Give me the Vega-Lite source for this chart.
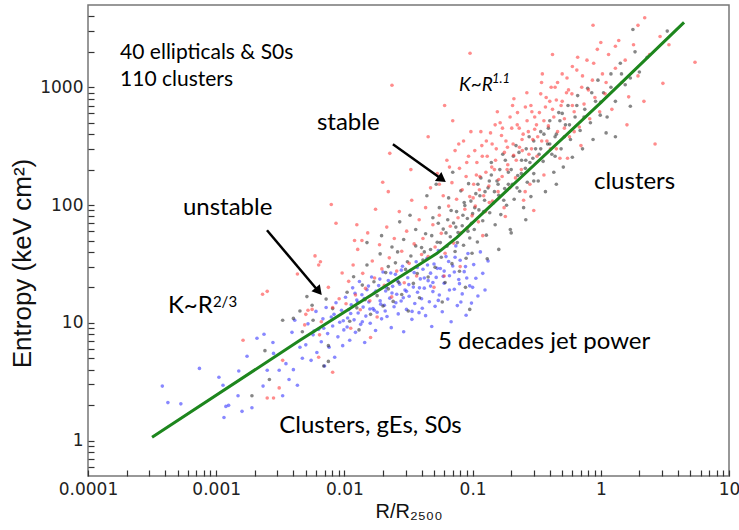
{
"$schema": "https://vega.github.io/schema/vega-lite/v6.json",
"width": 641, "height": 471,
"autosize": {"type": "none"},
"padding": {"left": 88, "top": 5, "right": 10, "bottom": 54},
"background": "white",
"config": {"view": {"stroke": "#777", "strokeWidth": 1.5}, "axis": {"domain": false, "grid": false, "ticks": true, "tickColor": "#333", "tickWidth": 1.2, "zindex": 2}},
"datasets": {
"pts": [
{"r":0.00038,"k":2.9,"g":"b"},{"r":0.00042,"k":2.1,"g":"b"},{"r":0.00053,"k":2.05,"g":"b"},{"r":0.00074,"k":4.1,"g":"b"},{"r":0.00105,"k":3.45,"g":"b"},{"r":0.00113,"k":2.95,"g":"b"},{"r":0.00115,"k":1.57,"g":"b"},{"r":0.00119,"k":1.95,"g":"b"},{"r":0.00125,"k":1.99,"g":"b"},{"r":0.00148,"k":2.4,"g":"b"},{"r":0.0015,"k":3.9,"g":"b"},{"r":0.00159,"k":1.77,"g":"b"},{"r":0.00174,"k":5.2,"g":"b"},{"r":0.0019,"k":1.9,"g":"b"},{"r":0.00208,"k":7.4,"g":"b"},{"r":0.00236,"k":8.0,"g":"b"},{"r":0.0025,"k":3.95,"g":"b"},{"r":0.00232,"k":2.9,"g":"b"},{"r":0.00277,"k":6.8,"g":"b"},{"r":0.0031,"k":3.95,"g":"b"},{"r":0.0033,"k":2.4,"g":"b"},{"r":0.0035,"k":4.5,"g":"b"},{"r":0.0037,"k":3.3,"g":"b"},{"r":0.004,"k":4.0,"g":"b"},{"r":0.0043,"k":2.95,"g":"b"},{"r":0.0045,"k":6.2,"g":"b"},{"r":0.0039,"k":8.3,"g":"b"},{"r":0.0028,"k":5.5,"g":"b"},{"r":0.0047,"k":5.0,"g":"b"},{"r":0.0041,"k":10.5,"g":"b"},
{"r":0.005,"k":6.5,"g":"b"},{"r":0.0052,"k":9.8,"g":"b"},{"r":0.0055,"k":4.8,"g":"b"},{"r":0.0057,"k":7.9,"g":"b"},{"r":0.006,"k":12.5,"g":"b"},{"r":0.0061,"k":5.6,"g":"b"},{"r":0.0063,"k":8.8,"g":"b"},{"r":0.0066,"k":6.9,"g":"b"},{"r":0.0068,"k":10.8,"g":"b"},{"r":0.007,"k":4.3,"g":"b"},{"r":0.0072,"k":13.5,"g":"b"},{"r":0.0074,"k":8.1,"g":"b"},{"r":0.0076,"k":6.2,"g":"b"},{"r":0.0079,"k":11.2,"g":"b"},{"r":0.0081,"k":9.4,"g":"b"},{"r":0.0084,"k":5.1,"g":"b"},{"r":0.0086,"k":14.8,"g":"b"},{"r":0.0089,"k":7.6,"g":"b"},{"r":0.0092,"k":10.1,"g":"b"},{"r":0.0095,"k":12.8,"g":"b"},{"r":0.0097,"k":6.4,"g":"b"},{"r":0.0099,"k":8.7,"g":"b"},
{"r":0.0102,"k":16.5,"g":"b"},{"r":0.0105,"k":9.2,"g":"b"},{"r":0.0108,"k":12.9,"g":"b"},{"r":0.011,"k":7.1,"g":"b"},{"r":0.0113,"k":14.2,"g":"b"},{"r":0.0116,"k":19.8,"g":"b"},{"r":0.0119,"k":10.6,"g":"b"},{"r":0.0122,"k":8.3,"g":"b"},{"r":0.0125,"k":15.6,"g":"b"},{"r":0.0128,"k":12.1,"g":"b"},{"r":0.0131,"k":22.4,"g":"b"},{"r":0.0134,"k":9.7,"g":"b"},{"r":0.0137,"k":17.3,"g":"b"},{"r":0.014,"k":13.6,"g":"b"},{"r":0.0144,"k":6.8,"g":"b"},{"r":0.0147,"k":11.4,"g":"b"},{"r":0.015,"k":19.1,"g":"b"},{"r":0.0155,"k":15.0,"g":"b"},{"r":0.0159,"k":9.9,"g":"b"},{"r":0.0163,"k":24.5,"g":"b"},{"r":0.0167,"k":13.2,"g":"b"},{"r":0.0171,"k":17.9,"g":"b"},{"r":0.0175,"k":8.6,"g":"b"},{"r":0.018,"k":12.3,"g":"b"},{"r":0.0185,"k":20.7,"g":"b"},{"r":0.019,"k":15.4,"g":"b"},{"r":0.0195,"k":10.8,"g":"b"},{"r":0.02,"k":27.0,"g":"b"},
{"r":0.0205,"k":14.1,"g":"b"},{"r":0.021,"k":18.6,"g":"b"},{"r":0.0215,"k":11.3,"g":"b"},{"r":0.022,"k":22.9,"g":"b"},{"r":0.0226,"k":16.2,"g":"b"},{"r":0.0232,"k":9.1,"g":"b"},{"r":0.0238,"k":20.4,"g":"b"},{"r":0.0244,"k":13.7,"g":"b"},{"r":0.025,"k":25.8,"g":"b"},{"r":0.0256,"k":17.5,"g":"b"},{"r":0.0263,"k":11.9,"g":"b"},{"r":0.027,"k":21.3,"g":"b"},{"r":0.0277,"k":15.3,"g":"b"},{"r":0.0284,"k":30.2,"g":"b"},{"r":0.029,"k":8.4,"g":"b"},{"r":0.0297,"k":19.0,"g":"b"},{"r":0.0305,"k":13.0,"g":"b"},{"r":0.0312,"k":24.1,"g":"b"},{"r":0.032,"k":16.8,"g":"b"},{"r":0.0328,"k":27.9,"g":"b"},{"r":0.0336,"k":10.7,"g":"b"},{"r":0.0345,"k":20.1,"g":"b"},{"r":0.0354,"k":14.6,"g":"b"},{"r":0.0363,"k":33.0,"g":"b"},{"r":0.0372,"k":18.2,"g":"b"},{"r":0.0382,"k":12.2,"g":"b"},{"r":0.0391,"k":23.6,"g":"b"},{"r":0.04,"k":16.0,"g":"b"},
{"r":0.041,"k":28.5,"g":"b"},{"r":0.042,"k":19.7,"g":"b"},{"r":0.043,"k":11.5,"g":"b"},{"r":0.044,"k":35.2,"g":"b"},{"r":0.045,"k":22.8,"g":"b"},{"r":0.046,"k":15.1,"g":"b"},{"r":0.047,"k":26.4,"g":"b"},{"r":0.048,"k":9.3,"g":"b"},{"r":0.049,"k":18.4,"g":"b"},{"r":0.05,"k":31.6,"g":"b"},{"r":0.051,"k":13.8,"g":"b"},{"r":0.052,"k":24.3,"g":"b"},{"r":0.054,"k":41.0,"g":"b"},{"r":0.055,"k":17.2,"g":"b"},{"r":0.056,"k":28.9,"g":"b"},{"r":0.058,"k":12.4,"g":"b"},{"r":0.06,"k":21.7,"g":"b"},{"r":0.062,"k":36.5,"g":"b"},{"r":0.064,"k":15.9,"g":"b"},{"r":0.066,"k":25.1,"g":"b"},{"r":0.068,"k":10.2,"g":"b"},{"r":0.07,"k":30.4,"g":"b"},{"r":0.072,"k":19.3,"g":"b"},{"r":0.074,"k":45.0,"g":"b"},{"r":0.076,"k":14.0,"g":"b"},{"r":0.078,"k":23.3,"g":"b"},{"r":0.08,"k":34.0,"g":"b"},
{"r":0.083,"k":17.6,"g":"b"},{"r":0.086,"k":27.2,"g":"b"},{"r":0.089,"k":11.6,"g":"b"},{"r":0.092,"k":38.8,"g":"b"},{"r":0.095,"k":20.6,"g":"b"},{"r":0.098,"k":14.7,"g":"b"},{"r":0.102,"k":31.2,"g":"b"},{"r":0.106,"k":23.9,"g":"b"},{"r":0.11,"k":16.9,"g":"b"},{"r":0.115,"k":40.0,"g":"b"},{"r":0.12,"k":26.3,"g":"b"},{"r":0.125,"k":19.0,"g":"b"},{"r":0.132,"k":33.5,"g":"b"},
{"r":0.0058,"k":8.5,"g":"b"},{"r":0.0069,"k":9.0,"g":"b"},{"r":0.0083,"k":11.8,"g":"b"},{"r":0.0098,"k":10.4,"g":"b"},{"r":0.0112,"k":12.0,"g":"b"},{"r":0.0127,"k":14.9,"g":"b"},{"r":0.0143,"k":16.1,"g":"b"},{"r":0.0158,"k":13.1,"g":"b"},{"r":0.0176,"k":18.6,"g":"b"},{"r":0.0192,"k":14.4,"g":"b"},{"r":0.0212,"k":20.0,"g":"b"},{"r":0.0235,"k":17.9,"g":"b"},{"r":0.026,"k":22.7,"g":"b"},{"r":0.0288,"k":16.3,"g":"b"},{"r":0.0318,"k":21.1,"g":"b"},{"r":0.035,"k":26.7,"g":"b"},{"r":0.0385,"k":19.8,"g":"b"},{"r":0.042,"k":24.0,"g":"b"},{"r":0.047,"k":20.5,"g":"b"},{"r":0.053,"k":29.0,"g":"b"},{"r":0.059,"k":24.8,"g":"b"},{"r":0.065,"k":33.2,"g":"b"},{"r":0.072,"k":27.0,"g":"b"},{"r":0.079,"k":21.5,"g":"b"},{"r":0.088,"k":30.0,"g":"b"},
{"r":0.0106,"k":11.0,"g":"b"},{"r":0.0121,"k":17.8,"g":"b"},{"r":0.0138,"k":10.2,"g":"b"},{"r":0.0154,"k":20.5,"g":"b"},{"r":0.0171,"k":12.8,"g":"b"},{"r":0.0189,"k":23.5,"g":"b"},{"r":0.0208,"k":12.6,"g":"b"},{"r":0.023,"k":26.5,"g":"b"},{"r":0.0252,"k":14.8,"g":"b"},{"r":0.0278,"k":28.0,"g":"b"},{"r":0.0305,"k":18.5,"g":"b"},{"r":0.0337,"k":12.5,"g":"b"},{"r":0.037,"k":29.5,"g":"b"},{"r":0.0405,"k":13.3,"g":"b"},{"r":0.0445,"k":31.0,"g":"b"},{"r":0.049,"k":22.0,"g":"b"},{"r":0.054,"k":15.5,"g":"b"},{"r":0.06,"k":27.5,"g":"b"},{"r":0.066,"k":19.0,"g":"b"},{"r":0.073,"k":36.0,"g":"b"},{"r":0.081,"k":15.0,"g":"b"},{"r":0.09,"k":24.0,"g":"b"},{"r":0.1,"k":20.0,"g":"b"},
{"r":0.0033,"k":10.5,"g":"k"},{"r":0.004,"k":10.9,"g":"k"},{"r":0.0057,"k":10.5,"g":"k"},{"r":0.0047,"k":8.4,"g":"k"},{"r":0.0026,"k":3.3,"g":"k"},{"r":0.0019,"k":2.4,"g":"k"},{"r":0.0069,"k":4.3,"g":"k"},{"r":0.0075,"k":4.7,"g":"k"},{"r":0.0056,"k":14.1,"g":"k"},{"r":0.0072,"k":15.9,"g":"k"},{"r":0.0081,"k":13.2,"g":"k"},{"r":0.0051,"k":16.7,"g":"k"},{"r":0.0075,"k":6.4,"g":"k"},{"r":0.0024,"k":5.8,"g":"k"},{"r":0.0045,"k":12.6,"g":"k"},
{"r":0.0105,"k":18.2,"g":"k"},{"r":0.011,"k":10.3,"g":"k"},{"r":0.0118,"k":24.6,"g":"k"},{"r":0.0125,"k":13.4,"g":"k"},{"r":0.013,"k":8.7,"g":"k"},{"r":0.0138,"k":20.9,"g":"k"},{"r":0.0145,"k":15.7,"g":"k"},{"r":0.015,"k":31.0,"g":"k"},{"r":0.016,"k":11.8,"g":"k"},{"r":0.017,"k":22.3,"g":"k"},{"r":0.018,"k":17.0,"g":"k"},{"r":0.019,"k":38.5,"g":"k"},{"r":0.02,"k":13.9,"g":"k"},{"r":0.021,"k":26.7,"g":"k"},{"r":0.022,"k":19.4,"g":"k"},{"r":0.0235,"k":44.0,"g":"k"},{"r":0.024,"k":15.2,"g":"k"},{"r":0.025,"k":32.3,"g":"k"},{"r":0.0265,"k":22.1,"g":"k"},{"r":0.028,"k":17.4,"g":"k"},{"r":0.029,"k":51.0,"g":"k"},{"r":0.03,"k":28.4,"g":"k"},{"r":0.0315,"k":12.6,"g":"k"},{"r":0.033,"k":36.9,"g":"k"},{"r":0.0345,"k":21.6,"g":"k"},{"r":0.036,"k":62.0,"g":"k"},{"r":0.037,"k":26.2,"g":"k"},{"r":0.0385,"k":16.3,"g":"k"},{"r":0.04,"k":43.5,"g":"k"},{"r":0.0195,"k":55.0,"g":"k"},{"r":0.027,"k":72.0,"g":"k"},{"r":0.0325,"k":82.0,"g":"k"},{"r":0.015,"k":48.0,"g":"k"},
{"r":0.041,"k":34.1,"g":"k"},{"r":0.043,"k":57.0,"g":"k"},{"r":0.045,"k":24.5,"g":"k"},{"r":0.047,"k":41.9,"g":"k"},{"r":0.049,"k":78.0,"g":"k"},{"r":0.051,"k":29.6,"g":"k"},{"r":0.053,"k":48.3,"g":"k"},{"r":0.055,"k":95.0,"g":"k"},{"r":0.057,"k":36.0,"g":"k"},{"r":0.059,"k":62.5,"g":"k"},{"r":0.061,"k":22.0,"g":"k"},{"r":0.063,"k":44.7,"g":"k"},{"r":0.065,"k":115.0,"g":"k"},{"r":0.067,"k":53.8,"g":"k"},{"r":0.069,"k":31.8,"g":"k"},{"r":0.071,"k":70.5,"g":"k"},{"r":0.073,"k":40.3,"g":"k"},{"r":0.075,"k":88.0,"g":"k"},{"r":0.077,"k":58.4,"g":"k"},{"r":0.079,"k":27.4,"g":"k"},{"r":0.081,"k":132.0,"g":"k"},{"r":0.083,"k":66.7,"g":"k"},{"r":0.085,"k":45.6,"g":"k"},{"r":0.087,"k":99.0,"g":"k"},{"r":0.089,"k":35.3,"g":"k"},{"r":0.091,"k":76.8,"g":"k"},{"r":0.093,"k":152.0,"g":"k"},{"r":0.095,"k":52.5,"g":"k"},{"r":0.097,"k":108.0,"g":"k"},{"r":0.099,"k":39.0,"g":"k"},{"r":0.1,"k":84.5,"g":"k"},{"r":0.052,"k":150.0,"g":"k"},{"r":0.044,"k":120.0,"g":"k"},{"r":0.07,"k":190.0,"g":"k"},{"r":0.058,"k":15.0,"g":"k"},{"r":0.088,"k":20.0,"g":"k"},{"r":0.095,"k":13.0,"g":"k"},
{"r":0.103,"k":62.0,"g":"k"},{"r":0.106,"k":125.0,"g":"k"},{"r":0.109,"k":48.5,"g":"k"},{"r":0.112,"k":91.0,"g":"k"},{"r":0.116,"k":170.0,"g":"k"},{"r":0.12,"k":73.5,"g":"k"},{"r":0.124,"k":110.0,"g":"k"},{"r":0.128,"k":55.5,"g":"k"},{"r":0.132,"k":140.0,"g":"k"},{"r":0.136,"k":86.0,"g":"k"},{"r":0.14,"k":230.0,"g":"k"},{"r":0.145,"k":104.0,"g":"k"},{"r":0.15,"k":68.0,"g":"k"},{"r":0.155,"k":160.0,"g":"k"},{"r":0.16,"k":121.0,"g":"k"},{"r":0.166,"k":83.0,"g":"k"},{"r":0.172,"k":270.0,"g":"k"},{"r":0.178,"k":138.0,"g":"k"},{"r":0.184,"k":99.5,"g":"k"},{"r":0.19,"k":190.0,"g":"k"},{"r":0.197,"k":62.0,"g":"k"},{"r":0.204,"k":150.0,"g":"k"},{"r":0.211,"k":112.0,"g":"k"},{"r":0.218,"k":320.0,"g":"k"},{"r":0.225,"k":178.0,"g":"k"},{"r":0.233,"k":131.0,"g":"k"},{"r":0.241,"k":240.0,"g":"k"},{"r":0.25,"k":95.0,"g":"k"},{"r":0.258,"k":205.0,"g":"k"},{"r":0.267,"k":156.0,"g":"k"},{"r":0.276,"k":380.0,"g":"k"},{"r":0.285,"k":118.0,"g":"k"},{"r":0.295,"k":250.0,"g":"k"},{"r":0.3,"k":185.0,"g":"k"},{"r":0.13,"k":35.0,"g":"k"},{"r":0.2,"k":58.0,"g":"k"},{"r":0.26,"k":75.0,"g":"k"},{"r":0.16,"k":42.0,"g":"k"},
{"r":0.31,"k":300.0,"g":"k"},{"r":0.325,"k":160.0,"g":"k"},{"r":0.34,"k":420.0,"g":"k"},{"r":0.355,"k":235.0,"g":"k"},{"r":0.37,"k":130.0,"g":"k"},{"r":0.385,"k":330.0,"g":"k"},{"r":0.4,"k":520.0,"g":"k"},{"r":0.415,"k":270.0,"g":"k"},{"r":0.43,"k":190.0,"g":"k"},{"r":0.45,"k":400.0,"g":"k"},{"r":0.47,"k":610.0,"g":"k"},{"r":0.49,"k":300.0,"g":"k"},{"r":0.51,"k":210.0,"g":"k"},{"r":0.53,"k":480.0,"g":"k"},{"r":0.555,"k":700.0,"g":"k"},{"r":0.58,"k":360.0,"g":"k"},{"r":0.6,"k":255.0,"g":"k"},{"r":0.63,"k":560.0,"g":"k"},{"r":0.66,"k":850.0,"g":"k"},{"r":0.69,"k":430.0,"g":"k"},{"r":0.72,"k":300.0,"g":"k"},{"r":0.75,"k":650.0,"g":"k"},{"r":0.79,"k":980.0,"g":"k"},{"r":0.83,"k":500.0,"g":"k"},{"r":0.87,"k":360.0,"g":"k"},{"r":0.91,"k":760.0,"g":"k"},{"r":0.95,"k":1150.0,"g":"k"},{"r":0.99,"k":580.0,"g":"k"},{"r":0.45,"k":150.0,"g":"k"},
{"r":1.05,"k":900.0,"g":"k"},{"r":1.12,"k":560.0,"g":"k"},{"r":1.2,"k":1300.0,"g":"k"},{"r":1.3,"k":760.0,"g":"k"},{"r":1.42,"k":1600.0,"g":"k"},{"r":1.55,"k":1050.0,"g":"k"},{"r":1.7,"k":690.0,"g":"k"},{"r":1.85,"k":2000.0,"g":"k"},{"r":2.0,"k":1350.0,"g":"k"},{"r":2.3,"k":1800.0,"g":"k"},{"r":3.3,"k":3000.0,"g":"k"},{"r":1.1,"k":410.0,"g":"k"},{"r":1.3,"k":380.0,"g":"k"},{"r":1.78,"k":3100.0,"g":"k"},
{"r":0.054,"k":70,"g":"k"},{"r":0.062,"k":58,"g":"k"},{"r":0.068,"k":90,"g":"k"},{"r":0.076,"k":48,"g":"k"},{"r":0.084,"k":82,"g":"k"},{"r":0.092,"k":60,"g":"k"},{"r":0.104,"k":95,"g":"k"},{"r":0.114,"k":120,"g":"k"},{"r":0.122,"k":88,"g":"k"},{"r":0.135,"k":160,"g":"k"},{"r":0.148,"k":130,"g":"k"},{"r":0.163,"k":200,"g":"k"},{"r":0.175,"k":110,"g":"k"},{"r":0.19,"k":150,"g":"k"},{"r":0.208,"k":260,"g":"k"},{"r":0.222,"k":140,"g":"k"},{"r":0.24,"k":185,"g":"k"},{"r":0.262,"k":300,"g":"k"},{"r":0.28,"k":230,"g":"k"},{"r":0.3,"k":160,"g":"k"},{"r":0.33,"k":270,"g":"k"},{"r":0.36,"k":400,"g":"k"},{"r":0.4,"k":330,"g":"k"},{"r":0.44,"k":260,"g":"k"},{"r":0.48,"k":520,"g":"k"},{"r":0.52,"k":380,"g":"k"},
{"r":0.022,"k":30,"g":"k"},{"r":0.026,"k":40,"g":"k"},{"r":0.031,"k":33,"g":"k"},{"r":0.036,"k":45,"g":"k"},{"r":0.042,"k":40,"g":"k"},{"r":0.048,"k":55,"g":"k"},{"r":0.056,"k":48,"g":"k"},{"r":0.064,"k":75,"g":"k"},{"r":0.074,"k":65,"g":"k"},{"r":0.086,"k":105,"g":"k"},{"r":0.098,"k":70,"g":"k"},{"r":0.11,"k":150,"g":"k"},{"r":0.125,"k":130,"g":"k"},{"r":0.14,"k":180,"g":"k"},{"r":0.158,"k":150,"g":"k"},{"r":0.18,"k":240,"g":"k"},{"r":0.2,"k":200,"g":"k"},{"r":0.23,"k":280,"g":"k"},{"r":0.26,"k":240,"g":"k"},{"r":0.3,"k":350,"g":"k"},{"r":0.34,"k":300,"g":"k"},{"r":0.39,"k":450,"g":"k"},{"r":0.44,"k":380,"g":"k"},{"r":0.5,"k":600,"g":"k"},{"r":0.57,"k":480,"g":"k"},{"r":0.65,"k":700,"g":"k"},{"r":0.74,"k":560,"g":"k"},{"r":0.85,"k":900,"g":"k"},{"r":1.0,"k":750,"g":"k"},{"r":1.2,"k":1000,"g":"k"},{"r":1.45,"k":1300,"g":"k"},{"r":1.7,"k":1200,"g":"k"},
{"r":0.00162,"k":7.1,"g":"r"},{"r":0.0023,"k":17.5,"g":"r"},{"r":0.0025,"k":2.3,"g":"r"},{"r":0.0028,"k":2.3,"g":"r"},{"r":0.0031,"k":2.8,"g":"r"},{"r":0.0033,"k":4.8,"g":"r"},{"r":0.005,"k":11.8,"g":"r"},{"r":0.0049,"k":9.6,"g":"r"},{"r":0.0064,"k":7.9,"g":"r"},{"r":0.0081,"k":3.8,"g":"r"},{"r":0.0063,"k":5.1,"g":"r"},{"r":0.0043,"k":26,"g":"r"},{"r":0.0056,"k":13,"g":"r"},{"r":0.0066,"k":10.2,"g":"r"},{"r":0.0052,"k":12.8,"g":"r"},{"r":0.0063,"k":31,"g":"r"},{"r":0.0081,"k":13.5,"g":"r"},{"r":0.0079,"k":101,"g":"r"},{"r":0.0086,"k":70,"g":"r"},{"r":0.0059,"k":37,"g":"r"},{"r":0.0065,"k":33,"g":"r"},{"r":0.012,"k":50,"g":"r"},{"r":0.0137,"k":50,"g":"r"},{"r":0.0025,"k":18.5,"g":"r"},{"r":0.0075,"k":20,"g":"r"},{"r":0.0091,"k":16.0,"g":"r"},{"r":0.0096,"k":26.5,"g":"r"},
{"r":0.0103,"k":14.5,"g":"r"},{"r":0.0108,"k":22.5,"g":"r"},{"r":0.0112,"k":9.0,"g":"r"},{"r":0.0117,"k":31.0,"g":"r"},{"r":0.0122,"k":17.2,"g":"r"},{"r":0.0127,"k":42.0,"g":"r"},{"r":0.0133,"k":12.9,"g":"r"},{"r":0.0139,"k":26.3,"g":"r"},{"r":0.0146,"k":19.6,"g":"r"},{"r":0.0152,"k":58.0,"g":"r"},{"r":0.0158,"k":15.4,"g":"r"},{"r":0.0165,"k":33.5,"g":"r"},{"r":0.0172,"k":24.0,"g":"r"},{"r":0.018,"k":11.2,"g":"r"},{"r":0.0188,"k":46.0,"g":"r"},{"r":0.0196,"k":28.7,"g":"r"},{"r":0.0205,"k":20.8,"g":"r"},{"r":0.0214,"k":65.0,"g":"r"},{"r":0.0224,"k":35.6,"g":"r"},{"r":0.0234,"k":16.6,"g":"r"},{"r":0.0245,"k":52.0,"g":"r"},{"r":0.0256,"k":27.5,"g":"r"},{"r":0.0268,"k":88.0,"g":"r"},{"r":0.028,"k":40.5,"g":"r"},{"r":0.0293,"k":21.9,"g":"r"},{"r":0.0306,"k":60.0,"g":"r"},{"r":0.032,"k":32.0,"g":"r"},{"r":0.0335,"k":110.0,"g":"r"},{"r":0.035,"k":46.8,"g":"r"},{"r":0.0366,"k":25.0,"g":"r"},{"r":0.0383,"k":75.0,"g":"r"},{"r":0.04,"k":38.0,"g":"r"},{"r":0.0125,"k":68,"g":"r"},{"r":0.0175,"k":92,"g":"r"},{"r":0.022,"k":130,"g":"r"},{"r":0.016,"k":7.5,"g":"r"},
{"r":0.041,"k":52.0,"g":"r"},{"r":0.043,"k":95.0,"g":"r"},{"r":0.045,"k":36.5,"g":"r"},{"r":0.047,"k":140.0,"g":"r"},{"r":0.049,"k":68.0,"g":"r"},{"r":0.051,"k":44.0,"g":"r"},{"r":0.053,"k":185.0,"g":"r"},{"r":0.055,"k":82.0,"g":"r"},{"r":0.057,"k":57.5,"g":"r"},{"r":0.059,"k":120.0,"g":"r"},{"r":0.061,"k":39.0,"g":"r"},{"r":0.063,"k":240.0,"g":"r"},{"r":0.065,"k":98.0,"g":"r"},{"r":0.067,"k":66.0,"g":"r"},{"r":0.069,"k":155.0,"g":"r"},{"r":0.071,"k":47.5,"g":"r"},{"r":0.073,"k":290.0,"g":"r"},{"r":0.075,"k":112.0,"g":"r"},{"r":0.077,"k":78.0,"g":"r"},{"r":0.079,"k":205.0,"g":"r"},{"r":0.081,"k":58.0,"g":"r"},{"r":0.083,"k":135.0,"g":"r"},{"r":0.085,"k":350.0,"g":"r"},{"r":0.087,"k":92.0,"g":"r"},{"r":0.089,"k":175.0,"g":"r"},{"r":0.091,"k":64.0,"g":"r"},{"r":0.093,"k":260.0,"g":"r"},{"r":0.095,"k":118.0,"g":"r"},{"r":0.097,"k":420.0,"g":"r"},{"r":0.099,"k":81.0,"g":"r"},{"r":0.06,"k":25.0,"g":"r"},{"r":0.08,"k":30.0,"g":"r"},{"r":0.05,"k":20.0,"g":"r"},{"r":0.07,"k":520,"g":"r"},{"r":0.045,"k":380,"g":"r"},{"r":0.0605,"k":700,"g":"r"},{"r":0.0955,"k":1945,"g":"r"},{"r":0.0235,"k":1040,"g":"r"},{"r":0.0226,"k":275,"g":"r"},{"r":0.0199,"k":156,"g":"r"},{"r":0.033,"k":200,"g":"r"},
{"r":0.102,"k":150.0,"g":"r"},{"r":0.105,"k":98.0,"g":"r"},{"r":0.108,"k":230.0,"g":"r"},{"r":0.111,"k":72.0,"g":"r"},{"r":0.114,"k":175.0,"g":"r"},{"r":0.118,"k":320.0,"g":"r"},{"r":0.122,"k":120.0,"g":"r"},{"r":0.126,"k":88.0,"g":"r"},{"r":0.13,"k":260.0,"g":"r"},{"r":0.134,"k":145.0,"g":"r"},{"r":0.138,"k":410.0,"g":"r"},{"r":0.143,"k":108.0,"g":"r"},{"r":0.148,"k":200.0,"g":"r"},{"r":0.153,"k":300.0,"g":"r"},{"r":0.158,"k":130.0,"g":"r"},{"r":0.164,"k":500.0,"g":"r"},{"r":0.17,"k":175.0,"g":"r"},{"r":0.176,"k":95.0,"g":"r"},{"r":0.182,"k":350.0,"g":"r"},{"r":0.188,"k":220.0,"g":"r"},{"r":0.195,"k":140.0,"g":"r"},{"r":0.202,"k":450.0,"g":"r"},{"r":0.209,"k":265.0,"g":"r"},{"r":0.216,"k":170.0,"g":"r"},{"r":0.224,"k":610.0,"g":"r"},{"r":0.232,"k":310.0,"g":"r"},{"r":0.24,"k":200.0,"g":"r"},{"r":0.248,"k":400.0,"g":"r"},{"r":0.257,"k":130.0,"g":"r"},{"r":0.266,"k":520.0,"g":"r"},{"r":0.275,"k":270.0,"g":"r"},{"r":0.285,"k":700.0,"g":"r"},{"r":0.295,"k":360.0,"g":"r"},{"r":0.12,"k":55.0,"g":"r"},{"r":0.18,"k":80.0,"g":"r"},{"r":0.25,"k":110.0,"g":"r"},{"r":0.15,"k":480,"g":"r"},{"r":0.21,"k":800,"g":"r"},{"r":0.28,"k":150,"g":"r"},
{"r":0.305,"k":440.0,"g":"r"},{"r":0.318,"k":260.0,"g":"r"},{"r":0.332,"k":610.0,"g":"r"},{"r":0.346,"k":350.0,"g":"r"},{"r":0.36,"k":180.0,"g":"r"},{"r":0.375,"k":820.0,"g":"r"},{"r":0.39,"k":470.0,"g":"r"},{"r":0.405,"k":300.0,"g":"r"},{"r":0.42,"k":650.0,"g":"r"},{"r":0.44,"k":1000.0,"g":"r"},{"r":0.46,"k":420.0,"g":"r"},{"r":0.48,"k":250.0,"g":"r"},{"r":0.5,"k":760.0,"g":"r"},{"r":0.52,"k":540.0,"g":"r"},{"r":0.545,"k":1200.0,"g":"r"},{"r":0.57,"k":380.0,"g":"r"},{"r":0.595,"k":880.0,"g":"r"},{"r":0.62,"k":620.0,"g":"r"},{"r":0.65,"k":1400.0,"g":"r"},{"r":0.68,"k":460.0,"g":"r"},{"r":0.71,"k":1000.0,"g":"r"},{"r":0.74,"k":720.0,"g":"r"},{"r":0.78,"k":1700.0,"g":"r"},{"r":0.82,"k":540.0,"g":"r"},{"r":0.86,"k":1150.0,"g":"r"},{"r":0.9,"k":820.0,"g":"r"},{"r":0.94,"k":2100.0,"g":"r"},{"r":0.98,"k":620.0,"g":"r"},{"r":0.35,"k":1300,"g":"r"},{"r":0.55,"k":250,"g":"r"},{"r":0.7,"k":320,"g":"r"},{"r":0.87,"k":3365,"g":"r"},{"r":0.42,"k":1900,"g":"r"},
{"r":1.03,"k":1300.0,"g":"r"},{"r":1.08,"k":880.0,"g":"r"},{"r":1.15,"k":1900.0,"g":"r"},{"r":1.22,"k":650.0,"g":"r"},{"r":1.3,"k":1450.0,"g":"r"},{"r":1.38,"k":2500.0,"g":"r"},{"r":1.46,"k":1100.0,"g":"r"},{"r":1.55,"k":1700.0,"g":"r"},{"r":1.65,"k":830.0,"g":"r"},{"r":1.8,"k":2300.0,"g":"r"},{"r":1.95,"k":1250.0,"g":"r"},{"r":2.2,"k":3900.0,"g":"r"},{"r":2.4,"k":1900.0,"g":"r"},{"r":2.9,"k":2700.0,"g":"r"},{"r":3.4,"k":2300.0,"g":"r"},{"r":2.65,"k":330,"g":"r"},{"r":5.43,"k":1630,"g":"r"},{"r":1.6,"k":480,"g":"r"},{"r":2.17,"k":760,"g":"r"},{"r":3.05,"k":1080,"g":"r"},{"r":1.95,"k":3360,"g":"r"},{"r":1.3,"k":2230,"g":"r"},
{"r":0.101,"k":115,"g":"r"},{"r":0.107,"k":180,"g":"r"},{"r":0.113,"k":135,"g":"r"},{"r":0.119,"k":260,"g":"r"},{"r":0.127,"k":190,"g":"r"},{"r":0.135,"k":105,"g":"r"},{"r":0.142,"k":330,"g":"r"},{"r":0.151,"k":240,"g":"r"},{"r":0.16,"k":165,"g":"r"},{"r":0.168,"k":390,"g":"r"},{"r":0.177,"k":280,"g":"r"},{"r":0.186,"k":200,"g":"r"},{"r":0.196,"k":560,"g":"r"},{"r":0.207,"k":330,"g":"r"},{"r":0.219,"k":240,"g":"r"},{"r":0.231,"k":450,"g":"r"},{"r":0.244,"k":290,"g":"r"},{"r":0.258,"k":680,"g":"r"},{"r":0.272,"k":420,"g":"r"},{"r":0.288,"k":300,"g":"r"},{"r":0.305,"k":560,"g":"r"},{"r":0.322,"k":380,"g":"r"},{"r":0.34,"k":880,"g":"r"},{"r":0.36,"k":520,"g":"r"},{"r":0.38,"k":350,"g":"r"},{"r":0.4,"k":760,"g":"r"},{"r":0.43,"k":560,"g":"r"},{"r":0.46,"k":1100,"g":"r"},{"r":0.49,"k":700,"g":"r"},{"r":0.52,"k":450,"g":"r"},{"r":0.56,"k":950,"g":"r"},{"r":0.6,"k":1500,"g":"r"},
{"r":0.055,"k":150,"g":"r"},{"r":0.066,"k":210,"g":"r"},{"r":0.078,"k":330,"g":"r"},{"r":0.09,"k":230,"g":"r"},{"r":0.104,"k":290,"g":"r"},{"r":0.116,"k":420,"g":"r"},{"r":0.128,"k":350,"g":"r"},{"r":0.141,"k":210,"g":"r"},{"r":0.156,"k":620,"g":"r"},{"r":0.171,"k":450,"g":"r"},{"r":0.187,"k":310,"g":"r"},{"r":0.205,"k":700,"g":"r"},{"r":0.223,"k":480,"g":"r"},{"r":0.243,"k":360,"g":"r"},{"r":0.265,"k":900,"g":"r"},{"r":0.29,"k":620,"g":"r"},{"r":0.315,"k":480,"g":"r"},{"r":0.345,"k":1100,"g":"r"},{"r":0.37,"k":680,"g":"r"},{"r":0.41,"k":1000,"g":"r"},{"r":0.45,"k":780,"g":"r"},{"r":0.5,"k":1300,"g":"r"},{"r":0.54,"k":900,"g":"r"},{"r":0.6,"k":700,"g":"r"},{"r":0.66,"k":1800,"g":"r"},{"r":0.72,"k":1250,"g":"r"},{"r":0.8,"k":950,"g":"r"},{"r":0.88,"k":1600,"g":"r"},{"r":1.0,"k":2400,"g":"r"},{"r":1.1,"k":1100,"g":"r"},{"r":0.3,"k":90,"g":"r"},{"r":0.45,"k":300,"g":"r"},{"r":0.62,"k":420,"g":"r"}
],
"fit": [{"r":0.000316,"k":1.066},{"r":0.0045,"k":7.1},{"r":0.0528,"k":38.9},{"r":0.0755,"k":53.2},{"r":0.986,"k":731},{"r":4.46,"k":3565}]
},
"layer": [
{
"data": {"name": "pts"},
"mark": {"type": "circle", "size": 13, "opacity": 0.58},
"encoding": {
"x": {"field": "r", "type": "quantitative", "scale": {"type": "log", "domain": [0.0001, 10], "nice": false},
"axis": {"orient": "bottom", "zindex": 2, "title": "R/R₂₅₀₀",
"values": [0.0001,0.0002,0.0003,0.0004,0.0005,0.0006,0.0007,0.0008,0.0009,0.001,0.002,0.003,0.004,0.005,0.006,0.007,0.008,0.009,0.01,0.02,0.03,0.04,0.05,0.06,0.07,0.08,0.09,0.1,0.2,0.3,0.4,0.5,0.6,0.7,0.8,0.9,1,2,3,4,5,6,7,8,9,10],
"labelExpr": "abs(log(datum.value)/LN10 - round(log(datum.value)/LN10)) < 0.01 ? format(datum.value, '~g') : ''",
"tickSize": -6,
"labelPadding": 11, "labelFont": "DejaVu Sans", "labelFontSize": 17, "labelColor": "#222", "labelFlush": false, "labelOverlap": false,
"titleFont": "Liberation Sans", "titleFontSize": 20, "titleFontWeight": "normal", "titleColor": "#111", "titleY": 41, "titleBaseline": "alphabetic"}},
"y": {"field": "k", "type": "quantitative", "scale": {"type": "log", "domain": [0.5, 5000], "nice": false},
"axis": {"orient": "left", "zindex": 2, "title": "Entropy (keV cm²)",
"values": [0.6,0.7,0.8,0.9,1,2,3,4,5,6,7,8,9,10,20,30,40,50,60,70,80,90,100,200,300,400,500,600,700,800,900,1000,2000,3000,4000],
"labelExpr": "abs(log(datum.value)/LN10 - round(log(datum.value)/LN10)) < 0.01 ? format(datum.value, '~g') : ''",
"tickSize": -6,
"labelPadding": 11, "labelFont": "DejaVu Sans", "labelFontSize": 17, "labelColor": "#222", "labelFlush": false, "labelOverlap": false,
"titleFont": "Liberation Sans", "titleFontSize": 26, "titleFontWeight": "normal", "titleColor": "#111", "titleX": -58, "titleY": 258, "titleAlign": "center", "titleBaseline": "alphabetic", "titleAngle": -90}},
"color": {"field": "g", "type": "nominal", "scale": {"domain": ["r", "k", "b"], "range": ["#ff3838", "#2e2e2e", "#3232ff"]}, "legend": null}
}
},
{
"data": {"name": "fit"},
"mark": {"type": "line", "color": "#1d861d", "strokeWidth": 3},
"encoding": {
"x": {"field": "r", "type": "quantitative"},
"y": {"field": "k", "type": "quantitative"}
}
},
{
"data": {"values": [{"r":0.0239,"k":328,"r2":0.0577,"k2":165.6},{"r":0.00249,"k":61.1,"r2":0.0063,"k2":18.45}]},
"mark": {"type": "rule", "color": "black", "strokeWidth": 2.5},
"encoding": {
"x": {"field": "r", "type": "quantitative"}, "y": {"field": "k", "type": "quantitative"},
"x2": {"field": "r2"}, "y2": {"field": "k2"}
}
},
{
"data": {"values": [{"r":0.0577,"k":165.6}]},
"mark": {"type": "point", "shape": "triangle-right", "filled": true, "color": "black", "opacity": 1, "size": 120, "angle": 36},
"encoding": {"x": {"field": "r", "type": "quantitative"}, "y": {"field": "k", "type": "quantitative"}}
},
{
"data": {"values": [{"r":0.0063,"k":18.45}]},
"mark": {"type": "point", "shape": "triangle-right", "filled": true, "color": "black", "opacity": 1, "size": 120, "angle": 50},
"encoding": {"x": {"field": "r", "type": "quantitative"}, "y": {"field": "k", "type": "quantitative"}}
},
{
"data": {"values": [{"r":0.000178,"k":1729,"t":"40 ellipticals & S0s"},{"r":0.000178,"k":1020,"t":"110 clusters"}]},
"mark": {"type": "text", "font": "Lato", "fontSize": 21, "align": "left", "baseline": "alphabetic", "color": "black"},
"encoding": {"x": {"field": "r", "type": "quantitative"}, "y": {"field": "k", "type": "quantitative"}, "text": {"field": "t"}}
},
{
"data": {"values": [{"r":0.0061,"k":431,"t":"stable"},{"r":0.00055,"k":81.9,"t":"unstable"},{"r":0.885,"k":136,"t":"clusters"},{"r":0.0537,"k":5.96,"t":"5 decades jet power"},{"r":0.0031,"k":1.15,"t":"Clusters, gEs, S0s"},{"r":0.00042,"k":12.05,"t":"K~R"}]},
"mark": {"type": "text", "font": "Lato", "fontSize": 24, "align": "left", "baseline": "alphabetic", "color": "black"},
"encoding": {"x": {"field": "r", "type": "quantitative"}, "y": {"field": "k", "type": "quantitative"}, "text": {"field": "t"}}
},
{
"data": {"values": [{"r":0.00042,"k":12.05,"t":"2/3"}]},
"mark": {"type": "text", "font": "Lato", "fontSize": 15, "align": "left", "baseline": "alphabetic", "color": "black", "dx": 45, "dy": -6},
"encoding": {"x": {"field": "r", "type": "quantitative"}, "y": {"field": "k", "type": "quantitative"}, "text": {"field": "t"}}
},
{
"data": {"values": [{"r":0.0783,"k":925,"t":"K~R"}]},
"mark": {"type": "text", "font": "Lato", "fontSize": 19, "fontStyle": "italic", "align": "left", "baseline": "alphabetic", "color": "black"},
"encoding": {"x": {"field": "r", "type": "quantitative"}, "y": {"field": "k", "type": "quantitative"}, "text": {"field": "t"}}
},
{
"data": {"values": [{"r":0.0783,"k":925,"t":"1.1"}]},
"mark": {"type": "text", "font": "Lato", "fontSize": 13, "fontStyle": "italic", "align": "left", "baseline": "alphabetic", "color": "black", "dx": 33, "dy": -8},
"encoding": {"x": {"field": "r", "type": "quantitative"}, "y": {"field": "k", "type": "quantitative"}, "text": {"field": "t"}}
}
]
}
